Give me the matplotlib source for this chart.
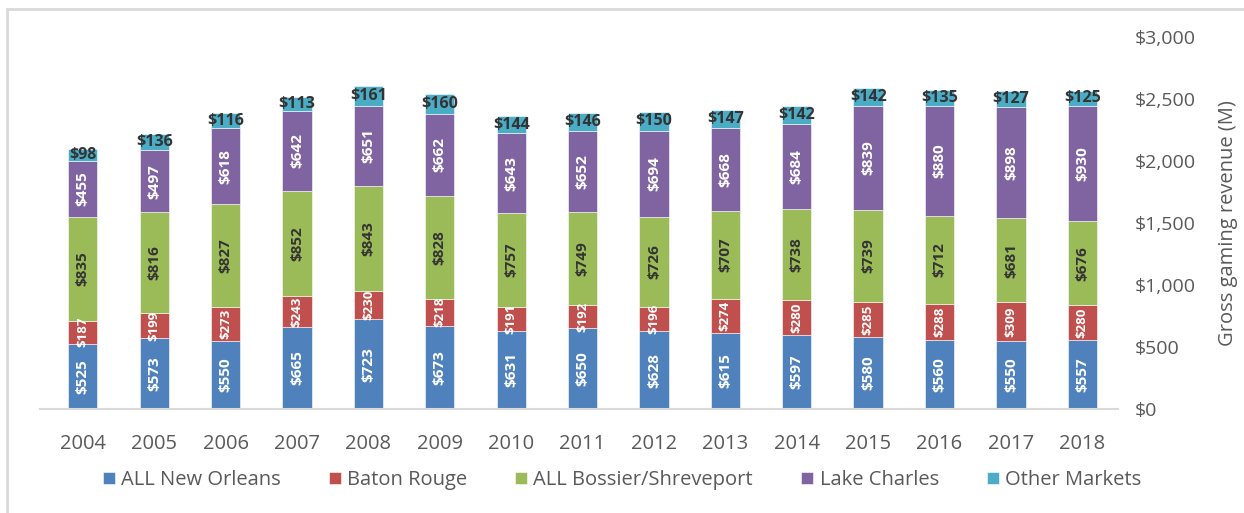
import matplotlib
matplotlib.use("Agg")
import matplotlib.pyplot as plt
from matplotlib.patches import Rectangle
import numpy as np

years = ["2004", "2005", "2006", "2007", "2008", "2009", "2010", "2011",
         "2012", "2013", "2014", "2015", "2016", "2017", "2018"]
new_orleans = [525, 573, 550, 665, 723, 673, 631, 650, 628, 615, 597, 580, 560, 550, 557]
baton_rouge = [187, 199, 273, 243, 230, 218, 191, 192, 196, 274, 280, 285, 288, 309, 280]
bossier = [835, 816, 827, 852, 843, 828, 757, 749, 726, 707, 738, 739, 712, 681, 676]
lake_charles = [455, 497, 618, 642, 651, 662, 643, 652, 694, 668, 684, 839, 880, 898, 930]
other = [98, 136, 116, 113, 161, 160, 144, 146, 150, 147, 142, 142, 135, 127, 125]

series_names = ["ALL New Orleans", "Baton Rouge", "ALL Bossier/Shreveport",
                "Lake Charles", "Other Markets"]
colors = ["#4F81BD", "#C0504D", "#9BBB59", "#8064A2", "#4BACC6"]
yticks = [0, 500, 1000, 1500, 2000, 2500, 3000]

plt.rcParams['font.family'] = ['Open Sans', 'DejaVu Sans']

fig = plt.figure(figsize=(12.44, 5.13), dpi=100)
ax = fig.add_axes([40/1244, 1 - 409/513, (1118-40)/1244, (409-37)/513])

# chart border
fig.patches.append(Rectangle((7/1244, -0.1), 1.2, (513-9)/513 + 0.1,
                             transform=fig.transFigure, fill=False,
                             edgecolor="#D9D9D9", linewidth=2))

x = np.arange(len(years))
data = [new_orleans, baton_rouge, bossier, lake_charles, other]
bottom = np.zeros(len(years))
width = 0.41
for i, (vals, name, c) in enumerate(zip(data, series_names, colors)):
    v = np.array(vals, dtype=float)
    ax.bar(x, v, width, bottom=bottom, color=c, label=name,
           edgecolor="white", linewidth=0.4)
    for xi, b, val in zip(x, bottom, v):
        yc = b + val / 2
        lab = f"${int(val)}"
        if i == 4:
            ax.text(xi, yc, lab, ha="center", va="center", fontsize=11.5,
                    fontweight="bold", color="#333333")
        elif i == 1:
            ax.text(xi, yc, lab, ha="center", va="center", fontsize=9.5,
                    fontweight="bold", color="white", rotation=90)
        elif i == 2:
            ax.text(xi, yc, lab, ha="center", va="center", fontsize=11,
                    fontweight="bold", color="#333333", rotation=90)
        else:
            ax.text(xi, yc, lab, ha="center", va="center", fontsize=11,
                    fontweight="bold", color="white", rotation=90)
    bottom += v

ax.set_xlim(-0.6, 14.5)
ax.set_ylim(0, 3000)
ax.yaxis.tick_right()
ax.yaxis.set_label_position("right")
ax.set_yticks(yticks)
ax.set_yticklabels([f"${t:,}" for t in yticks], fontsize=14, color="#595959")
ax.set_xticks(x)
ax.set_xticklabels(years, fontsize=14.5, color="#595959")
ax.tick_params(axis="both", length=0)
ax.tick_params(axis="y", pad=12)
ax.tick_params(axis="x", pad=18)
ax.set_ylabel("Gross gaming revenue (M)", fontsize=14.5, color="#595959", labelpad=16)
for s in ["top", "right", "left"]:
    ax.spines[s].set_visible(False)
ax.spines["bottom"].set_color("#D9D9D9")
ax.spines["bottom"].set_linewidth(1.5)

leg = fig.legend(loc="center", bbox_to_anchor=(0.5, 1 - 480/513), ncol=5,
                 frameon=False, fontsize=14.5, handlelength=0.6, handleheight=0.6,
                 handletextpad=0.3, columnspacing=2.4)
for t in leg.get_texts():
    t.set_color("#595959")

fig.savefig("out.png", dpi=100)
